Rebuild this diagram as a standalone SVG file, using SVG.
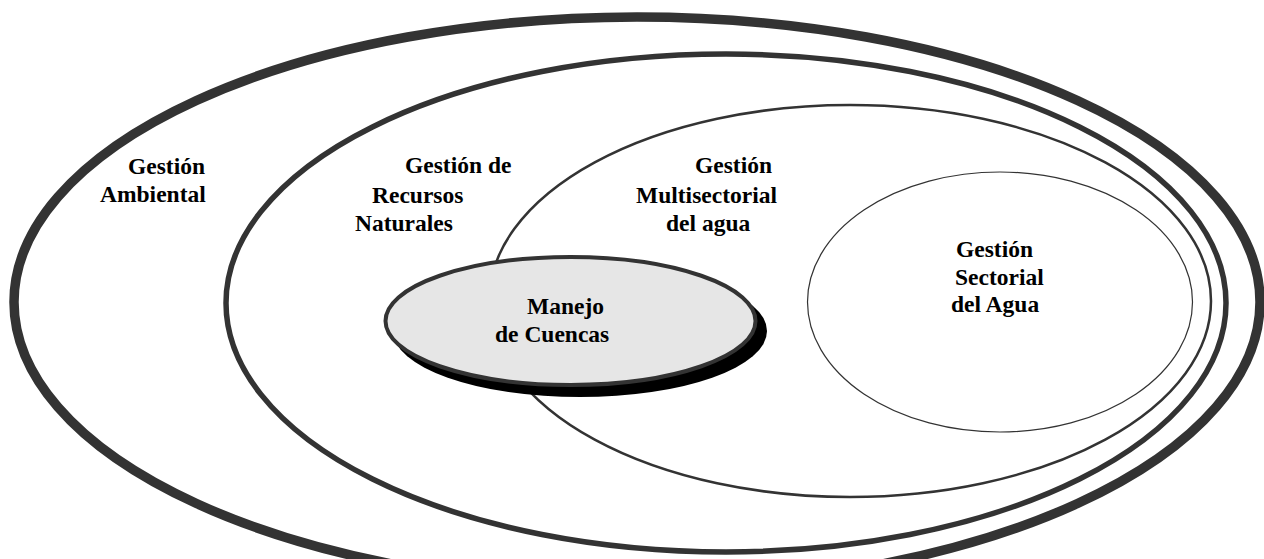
<svg xmlns="http://www.w3.org/2000/svg" width="1264" height="559" viewBox="0 0 1264 559">
<style>
.ring{fill:none;stroke:#333333}
text{font-weight:700;font-size:23.5px;fill:#000000}
</style>
<rect x="0" y="0" width="1264" height="559" fill="#ffffff"/>
<g id="gestion-ambiental">
<ellipse class="ring" cx="637" cy="302" rx="623" ry="285" stroke-width="9.5"/>
<text font-family="Liberation Serif, Times New Roman, serif"><tspan x="128" y="174">Gestión</tspan><tspan x="100" y="202">Ambiental</tspan></text>
</g>
<g id="gestion-recursos-naturales">
<ellipse class="ring" cx="726" cy="303" rx="500" ry="249" stroke-width="5.5"/>
<text font-family="Liberation Serif, Times New Roman, serif"><tspan x="405" y="173">Gestión de</tspan><tspan x="372" y="203">Recursos</tspan><tspan x="355" y="231">Naturales</tspan></text>
</g>
<g id="gestion-multisectorial">
<ellipse class="ring" cx="850" cy="301" rx="361" ry="196" stroke-width="2.5"/>
<text font-family="Liberation Serif, Times New Roman, serif"><tspan x="695" y="173">Gestión</tspan><tspan x="636" y="203">Multisectorial</tspan><tspan x="666" y="231">del agua</tspan></text>
</g>
<g id="gestion-sectorial">
<ellipse class="ring" cx="1000" cy="302" rx="192.5" ry="130" stroke-width="1.2"/>
<text font-family="Liberation Serif, Times New Roman, serif"><tspan x="956" y="257">Gestión</tspan><tspan x="955" y="285">Sectorial</tspan><tspan x="951" y="312">del Agua</tspan></text>
</g>
<g id="manejo-cuencas">
<ellipse cx="580" cy="331" rx="187" ry="66" fill="#000000"/>
<ellipse cx="570.5" cy="321" rx="185" ry="64" fill="#e6e6e6" stroke="#333333" stroke-width="4"/>
<text font-family="Liberation Serif, Times New Roman, serif"><tspan x="527" y="314">Manejo</tspan><tspan x="495" y="342">de Cuencas</tspan></text>
</g>
<g id="connectors"></g>
</svg>
